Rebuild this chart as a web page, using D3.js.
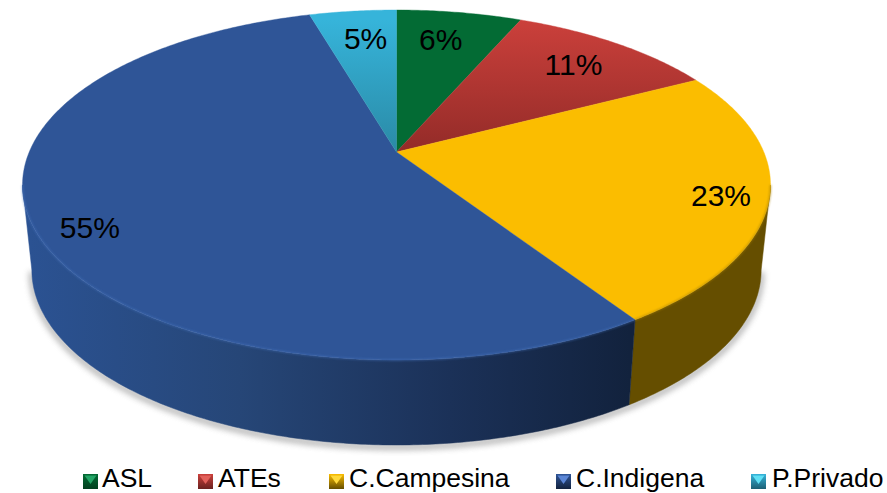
<!DOCTYPE html>
<html>
<head>
<meta charset="utf-8">
<script src="https://cdn.jsdelivr.net/npm/d3@7"></script>
<style>
  html, body { margin: 0; padding: 0; background: #fff; }
  svg { display: block; font-family: "Liberation Sans", Arial, sans-serif; }
</style>
</head>
<body>
<div id="chart"></div>
<script>
/* ---------- data ---------- */
const categories = ['ASL', 'ATEs', 'C.Campesina', 'C.Indigena', 'P.Privado'];
const shares = [6.49, 10.85, 23.45, 54.7, 4.51];
const topColors = [['#036b34', '#036b34'], ['#cb403b', '#932b28'], ['#fbbd00', '#fbbd00'], ['#2f5597', '#2f5597'], ['#36b4da', '#2a8aa6']];
const sideColors = ['#02401f', '#6b2220', '#654e00', '#13233f', '#1c5f74'];
const legendLight = ['#23a566', '#e2605a', '#ffd93a', '#5b86d6', '#5fe0f5'];
const legendX = [83, 198, 329, 556, 751];
const legendTextX = [102, 218, 349, 576, 772];

const W = 887, H = 493;
const cx = 396.5, topCy = 185, bottomCy = 270;
const rx = 374, ry = 175, bottomScale = 0.975;
const apexLift = 33;               // apex sits above the ellipse centre (perspective)
const k = apexLift / ry;
const ax = rx * Math.sqrt(1 - k * k);

// project a point of the unit disc onto the tilted top face
function project(angle, r = 1) {
  const u = Math.sin(angle) * r, v = Math.cos(angle) * r;
  const w = 1 + k * v;
  return [ax * u / w, (ry * v + apexLift) / w];
}
const topPt = (a, r) => { const p = project(a, r); return [cx + p[0], topCy - p[1]]; };
const bottomPt = a => { const p = project(a); return [cx + p[0] * bottomScale, bottomCy - p[1]]; };

function sampleAngles(a0, a1) {
  const n = Math.max(2, Math.ceil(Math.abs(a1 - a0) / 0.01));
  return d3.range(n + 1).map(i => a0 + (a1 - a0) * i / n);
}

const svg = d3.select('#chart').append('svg').attr('width', W).attr('height', H).attr('viewBox', `0 0 ${W} ${H}`);
const defs = svg.append('defs');
const line = d3.line();

const pct = d3.format('.0f');
const arcs = d3.pie().sort(null).value(d => d)(shares);

/* ---------- gradients ---------- */
function vGrad(id, c0, c1, y0, y1) {
  const g = defs.append('linearGradient').attr('id', id)
    .attr('gradientUnits', 'userSpaceOnUse')
    .attr('x1', 0).attr('x2', 0).attr('y1', y0).attr('y2', y1);
  g.append('stop').attr('offset', 0).attr('stop-color', c0);
  g.append('stop').attr('offset', 1).attr('stop-color', c1);
}
topColors.forEach((c, i) => vGrad(`top${i}`, c[0], c[1], 20, 152));

const blueSide = defs.append('linearGradient').attr('id', 'sideBlue')
  .attr('gradientUnits', 'userSpaceOnUse').attr('x1', 30).attr('x2', 630).attr('y1', 0).attr('y2', 0);
[[0, '#2b5292'], [0.35, '#264677'], [0.7, '#1b3158'], [1, '#12223d']].forEach(s =>
  blueSide.append('stop').attr('offset', s[0]).attr('stop-color', s[1]));

const shadow = defs.append('filter').attr('id', 'soft')
  .attr('x', '-5%').attr('y', '-5%').attr('width', '110%').attr('height', '110%');
shadow.append('feGaussianBlur').attr('stdDeviation', 3);
const rimBlur = defs.append('filter').attr('id', 'rimBlur')
  .attr('x', '-5%').attr('y', '-5%').attr('width', '110%').attr('height', '110%');
rimBlur.append('feGaussianBlur').attr('stdDeviation', 0.8);

/* ---------- side wall ---------- */
const rightEdge = Math.PI / 2 + Math.asin(k);
const leftEdge = 2 * Math.PI - rightEdge;

const frontAngles = sampleAngles(rightEdge, leftEdge);
svg.append('path')
  .attr('d', line(frontAngles.map(bottomPt)))
  .attr('fill', 'none')
  .attr('stroke', '#777')
  .attr('stroke-width', 5)
  .attr('opacity', 0.65)
  .attr('filter', 'url(#soft)')
  .attr('transform', 'translate(0,2)');

arcs.forEach((d, i) => {
  const a0 = Math.max(d.startAngle, rightEdge), a1 = Math.min(d.endAngle, leftEdge);
  if (a1 <= a0) return;
  const as = sampleAngles(a0, a1);
  const pts = as.map(a => topPt(a)).concat(as.slice().reverse().map(bottomPt));
  svg.append('path')
    .attr('d', line(pts) + 'Z')
    .attr('fill', i === 3 ? 'url(#sideBlue)' : sideColors[i])
    .attr('stroke', i === 3 ? 'url(#sideBlue)' : sideColors[i])
    .attr('stroke-width', 0.5);
});

/* ---------- top face ---------- */
arcs.forEach((d, i) => {
  const pts = [topPt(0, 0)].concat(sampleAngles(d.startAngle, d.endAngle).map(a => topPt(a)));
  svg.append('path')
    .attr('d', line(pts) + 'Z')
    .attr('fill', `url(#top${i})`)
    .attr('stroke', `url(#top${i})`)
    .attr('stroke-width', 0.4);
});

// soft bevel along the front rim
arcs.forEach((d, i) => {
  const a0 = Math.max(d.startAngle, rightEdge), a1 = Math.min(d.endAngle, leftEdge);
  if (a1 <= a0) return;
  svg.append('path')
    .attr('d', line(sampleAngles(a0, a1).map(a => topPt(a))))
    .attr('fill', 'none')
    .attr('stroke', i === 3 ? '#4a78c4' : '#a88000')
    .attr('stroke-width', 1.3)
    .attr('opacity', i === 3 ? 0.6 : 0.8)
    .attr('filter', 'url(#rimBlur)');
});

/* ---------- value labels ---------- */
arcs.forEach(d => {
  const mid = (d.startAngle + d.endAngle) / 2;
  const big = d.data > 20;
  // the two big labels sit lower than a plain radial placement
  const p = topPt(mid, big ? 0.875 : 0.77);
  const isIndigena = d.data > 50;
  const small = d.data < 6;
  const dx = isIndigena ? 7 : small ? 4 : d.data < 8 ? -6 : d.data < 12 ? 3 : 0;
  const dy = big ? (isIndigena ? 9 : 5) : -1;
  svg.append('text')
    .attr('x', p[0] + dx).attr('y', p[1] + 10.5 + dy)
    .attr('text-anchor', 'middle')
    .attr('font-size', 30)
    .attr('fill', '#000')
    .text(pct(d.data) + '%');
});

/* ---------- legend ---------- */
const legend = svg.append('g');
categories.forEach((name, i) => {
  const x = legendX[i], y = 474, s = 15;
  vGrad(`leg${i}`, topColors[i][0], sideColors[i], y, y + s);
  legend.append('rect').attr('x', x).attr('y', y).attr('width', s).attr('height', s)
    .attr('fill', `url(#leg${i})`);
  // bevel: lighter wedge pointing down from the top edge
  legend.append('path')
    .attr('d', line([[x + 1.5, y + 1.5], [x + s - 1.5, y + 1.5], [x + s / 2, y + s - 5]]) + 'Z')
    .attr('fill', legendLight[i]);
  legend.append('text')
    .attr('x', legendTextX[i]).attr('y', 487.4)
    .attr('font-size', 26.5)
    .attr('fill', '#000')
    .text(name);
});
</script>
</body>
</html>
